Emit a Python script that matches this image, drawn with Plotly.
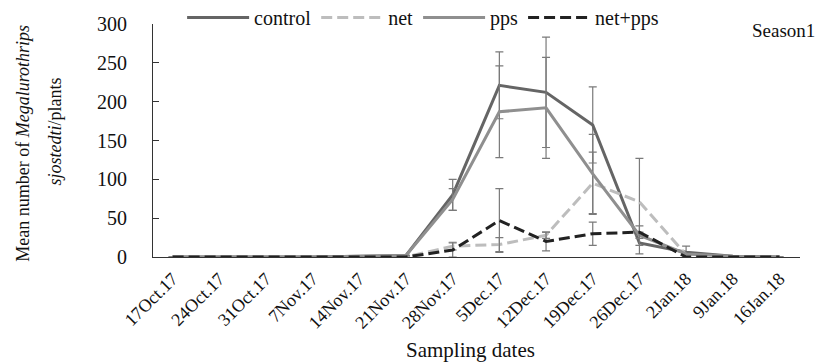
import plotly.graph_objects as go

dates = ["17Oct.17", "24Oct.17", "31Oct.17", "7Nov.17", "14Nov.17", "21Nov.17",
         "28Nov.17", "5Dec.17", "12Dec.17", "19Dec.17", "26Dec.17", "2Jan.18",
         "9Jan.18", "16Jan.18"]

control = [0, 0, 0, 0, 1, 2, 80, 221, 212, 170, 18, 6, 1, 0]
control_err = [0, 0, 0, 0, 0, 0, 20, 43, 71, 49, 14, 8, 0, 0]

net = [0, 0, 0, 0, 0, 0, 14, 16, 28, 95, 71, 3, 0, 0]
net_err = [0, 0, 0, 0, 0, 0, 5, 9, 4, 40, 56, 0, 0, 0]

pps = [0, 0, 0, 0, 1, 2, 74, 187, 192, 107, 28, 4, 1, 0]
pps_err = [0, 0, 0, 0, 0, 0, 14, 59, 65, 51, 0, 0, 0, 0]

net_pps = [0, 0, 0, 0, 0, 0, 9, 47, 20, 30, 32, 0, 0, 0]
net_pps_err = [0, 0, 0, 0, 0, 0, 9, 41, 12, 15, 8, 0, 0, 0]

x_idx = list(range(len(dates)))

series = [
    ("control", control, control_err, "#656565", "solid"),
    ("net", net, net_err, "#bdbdbd", "11px,5px"),
    ("pps", pps, pps_err, "#8f8f8f", "solid"),
    ("net+pps", net_pps, net_pps_err, "#222222", "11px,5px"),
]

serif = "Liberation Serif, Times New Roman, serif"

fig = go.Figure()
for name, vals, errs, color, dash in series:
    fig.add_trace(go.Scatter(
        x=x_idx, y=vals, name=name, mode="lines",
        line=dict(color=color, width=3, dash=dash),
        error_y=dict(type="data", array=errs, visible=True,
                     color="#7a7a7a", thickness=1.2, width=4),
    ))

fig.update_layout(
    width=821, height=362,
    margin=dict(l=153, r=21, t=24, b=105, autoexpand=False),
    paper_bgcolor="white", plot_bgcolor="white",
    showlegend=True,
    legend=dict(orientation="h", x=0.045, y=1.028, xanchor="left", yanchor="middle",
                font=dict(family=serif, size=20, color="#111111"),
                bgcolor="rgba(0,0,0,0)", itemwidth=62, tracegroupgap=0),
    xaxis=dict(
        range=[-0.42, 13.44], tickmode="array", tickvals=x_idx, ticktext=dates,
        tickangle=-45, showgrid=False, zeroline=False,
        showline=True, linecolor="#333333", linewidth=1.2,
        ticks="", ticklabelstandoff=3,
        tickfont=dict(family=serif, size=18, color="#111111"),
    ),
    yaxis=dict(
        range=[0, 300], tickvals=[0, 50, 100, 150, 200, 250, 300],
        showgrid=False, zeroline=False,
        showline=True, linecolor="#333333", linewidth=1.2,
        ticks="inside", ticklen=6, tickcolor="#333333",
        ticklabelstandoff=21,
        tickfont=dict(family=serif, size=20, color="#111111"),
    ),
)

fig.add_annotation(text="Mean number of <i>Megalurothrips</i>", xref="paper", yref="paper",
                   x=-0.201, y=0.49, textangle=-90, showarrow=False,
                   xanchor="center", yanchor="middle",
                   font=dict(family=serif, size=18, color="#111111"))
fig.add_annotation(text="<i>sjostedti</i>/plants", xref="paper", yref="paper",
                   x=-0.151, y=0.54, textangle=-90, showarrow=False,
                   xanchor="center", yanchor="middle",
                   font=dict(family=serif, size=18, color="#111111"))
fig.add_annotation(text="Sampling dates", xref="paper", yref="paper",
                   x=0.49, y=-0.40, showarrow=False,
                   xanchor="center", yanchor="middle",
                   font=dict(family=serif, size=21, color="#111111"))
fig.add_annotation(text="Season1", xref="paper", yref="paper",
                   x=1.026, y=0.97, showarrow=False, xanchor="right", yanchor="middle",
                   font=dict(family=serif, size=19, color="#111111"))

fig.write_html("out.html")
